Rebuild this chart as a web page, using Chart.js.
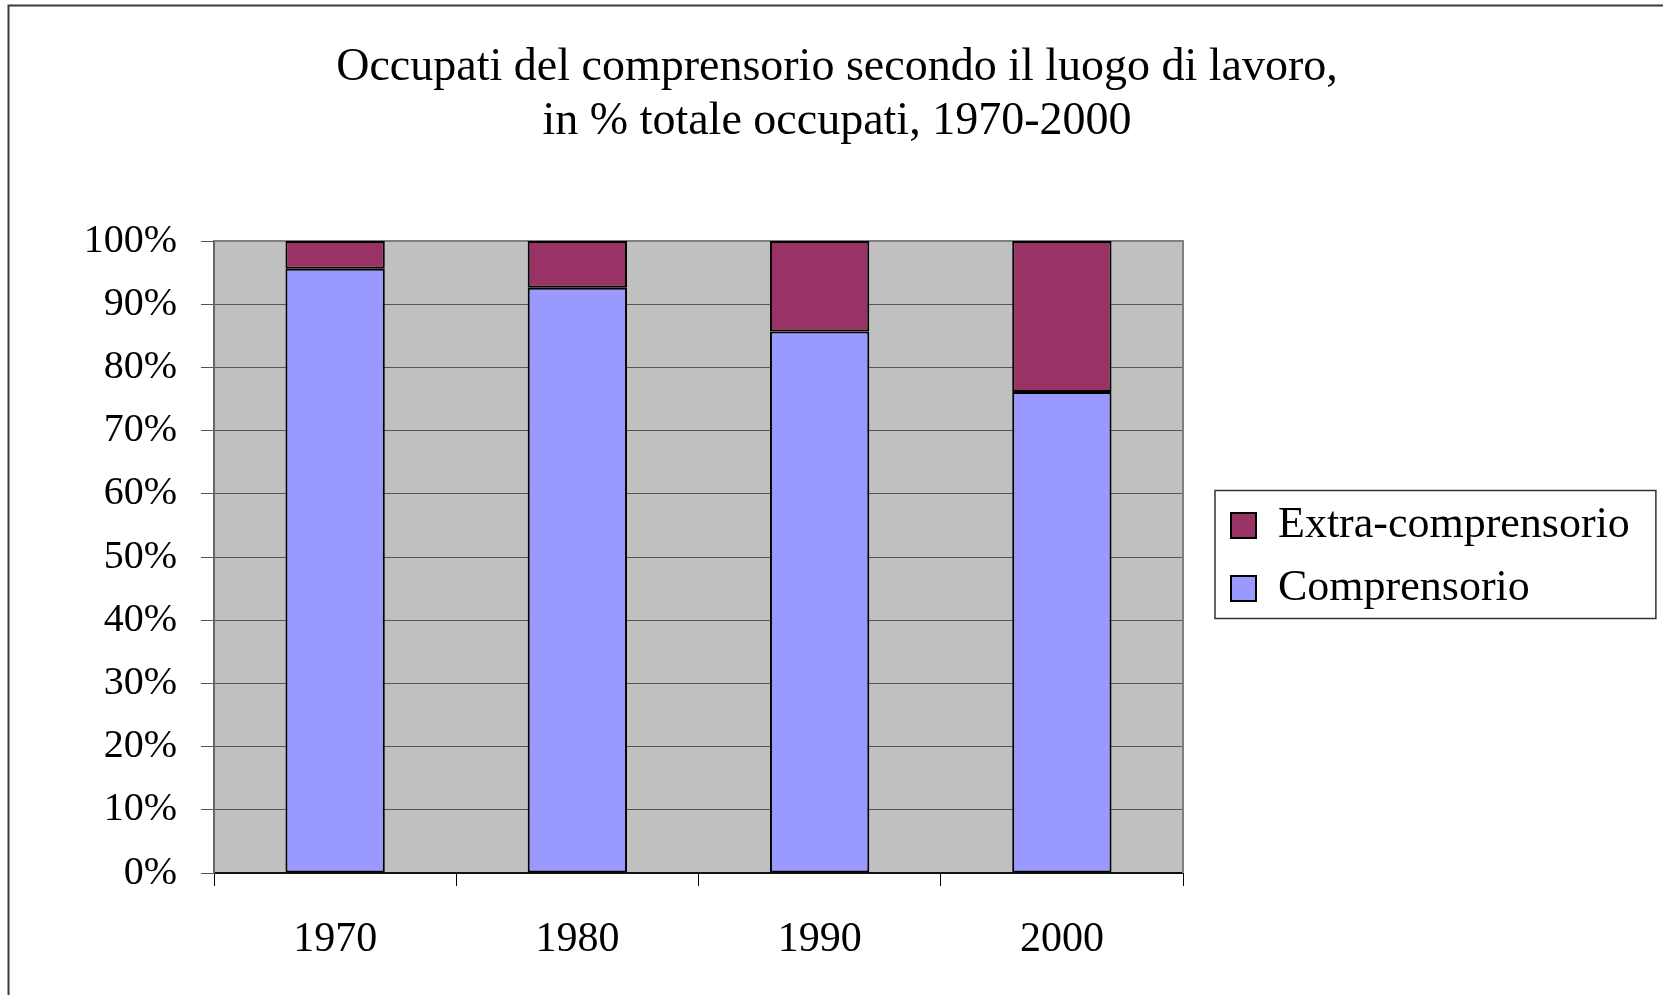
<!DOCTYPE html>
<html lang="it">
<head>
<meta charset="utf-8">
<title>Occupati del comprensorio secondo il luogo di lavoro</title>
<script src="https://cdn.jsdelivr.net/npm/chart.js@4.4.1/dist/chart.umd.min.js"></script>
<style>
  html, body { margin: 0; padding: 0; background: #fff; }
  #wrap { position: relative; width: 1663px; height: 995px; }
</style>
</head>
<body>
<div id="wrap"><canvas id="grafico"></canvas></div>
<script>
// dati (% sul totale occupati)
const anni = ['1970', '1980', '1990', '2000'];
const comprensorio = [95.6, 92.6, 85.7, 76.1];
const extraComprensorio = [4.4, 7.4, 14.3, 23.9];
const titolo = ['Occupati del comprensorio secondo il luogo di lavoro,', 'in % totale occupati, 1970-2000'];
const tickMax = 100, tickStep = 10;

Chart.defaults.font.family = "'Liberation Serif', 'Times New Roman', serif";
Chart.defaults.color = '#000';

const PAD_R = 100, AREA_L = 214;

const cornice = {
  id: 'cornice',
  afterLayout(chart) {
    // titolo centrato su tutta la pagina (come nell'originale)
    const tb = chart.titleBlock;
    tb.left = 11; tb.right = chart.width; tb.width = tb.right - tb.left;
    // legenda staccata di un po' dall'area del grafico, senza taglio a destra
    const lg = chart.legend;
    lg.left += 29;
    lg.right = chart.width;
    lg.width = lg.right - lg.left;
  },
  beforeDraw(chart) {
    const { ctx, chartArea: a } = chart;
    ctx.save();
    ctx.fillStyle = '#c0c0c0';
    ctx.fillRect(a.left, a.top, a.width, a.height);
    ctx.restore();
  },
  beforeDatasetsDraw(chart) {
    const { ctx, chartArea: a } = chart;
    ctx.save();
    ctx.strokeStyle = '#808080';
    ctx.lineWidth = 2;
    ctx.beginPath();
    ctx.moveTo(a.left, a.top); ctx.lineTo(a.right, a.top); ctx.lineTo(a.right, a.bottom);
    ctx.stroke();
    ctx.restore();
  },
  afterDraw(chart) {
    const { ctx } = chart;
    const hb = chart.legend.legendHitBoxes;
    ctx.save();
    if (hb && hb.length) {
      const first = hb[0], last = hb[hb.length - 1];
      const x0 = first.left - 16, y0 = first.top - 13;
      const x1 = Math.max(...hb.map(h => h.left + h.width)) + 26;
      const y1 = last.top + last.height + 8;
      ctx.strokeStyle = '#333';
      ctx.lineWidth = 1.5;
      ctx.strokeRect(x0, y0, x1 - x0, y1 - y0);
    }
    // bordo esterno (si vedono solo il lato alto e il sinistro)
    ctx.strokeStyle = '#3a3a3a';
    ctx.lineWidth = 2;
    ctx.beginPath();
    ctx.moveTo(8.5, chart.height); ctx.lineTo(8.5, 5.5); ctx.lineTo(chart.width, 5.5);
    ctx.stroke();
    ctx.restore();
  }
};

new Chart(document.getElementById('grafico'), {
  type: 'bar',
  data: {
    labels: anni,
    datasets: [
      { label: 'Comprensorio', data: comprensorio, backgroundColor: '#9999ff', borderColor: '#000', borderWidth: 2, borderSkipped: false },
      { label: 'Extra-comprensorio', data: extraComprensorio, backgroundColor: '#993366', borderColor: '#000', borderWidth: 2, borderSkipped: false },
    ],
  },
  options: {
    responsive: true, maintainAspectRatio: false, animation: false,
    layout: { padding: { left: 0, top: 0, bottom: 0, right: PAD_R } },
    datasets: { bar: { categoryPercentage: 1, barPercentage: 0.41 } },
    plugins: {
      title: {
        display: true, text: titolo, color: '#000',
        font: { size: 46, weight: 'normal', lineHeight: 54 / 46 },
        padding: { top: 41, bottom: 92 },
      },
      legend: {
        position: 'right', reverse: true, fullSize: false,
        maxWidth: 1663 - PAD_R - 1183,
        labels: { boxWidth: 25, boxHeight: 25, padding: 19, color: '#000', font: { size: 44 } },
      },
      tooltip: { enabled: false },
    },
    scales: {
      x: {
        stacked: true,
        ticks: { padding: 29, color: '#000', font: { size: 42 } },
        grid: { drawOnChartArea: false, drawTicks: true, tickLength: 13, color: '#000', offset: true },
        border: { color: '#111', width: 2 },
        afterFit(s) { s.height = 122; },
      },
      y: {
        stacked: true, min: 0, max: tickMax,
        ticks: { stepSize: tickStep, padding: 24, color: '#000', font: { size: 40 }, callback: (v) => v + '%' },
        grid: { color: '#555', lineWidth: 1, tickLength: 13 },
        border: { color: '#666', width: 2 },
        afterFit(s) { s.width = AREA_L; },
      },
    },
  },
  plugins: [cornice],
});
</script>
</body>
</html>
